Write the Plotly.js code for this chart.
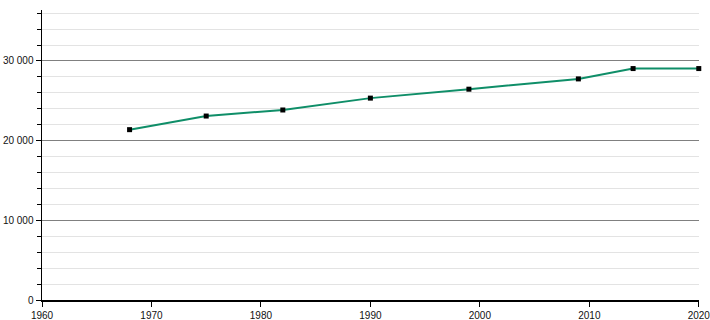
<!DOCTYPE html>
<html>
<head>
<meta charset="utf-8">
<script src="https://cdn.plot.ly/plotly-3.0.1.min.js"></script>
<style>html,body{margin:0;padding:0;background:#fff;}#chart{width:710px;height:320px;}</style>
</head>
<body>
<div id="chart"></div>
<script>
const years = [1968, 1975, 1982, 1990, 1999, 2009, 2014, 2020];
const population = [21380, 23090, 23850, 25340, 26460, 27750, 29050, 29050];
const xTicks = [1960, 1970, 1980, 1990, 2000, 2010, 2020];
const yTicks = [0, 10000, 20000, 30000];

const trace = {
  x: years,
  y: population,
  type: 'scatter',
  mode: 'lines+markers',
  line: {color: '#0f8e68', width: 2},
  marker: {symbol: 'square', size: 5, color: '#000'},
  cliponaxis: false,
  hoverinfo: 'x+y'
};

const layout = {
  width: 710,
  height: 320,
  margin: {l: 42, r: 11, t: 10, b: 20},
  paper_bgcolor: '#fff',
  plot_bgcolor: '#fff',
  separators: ', ',
  showlegend: false,
  font: {family: 'Liberation Sans, Arial, sans-serif', size: 10, color: '#111'},
  xaxis: {
    range: [1960, 2020.02],
    tickvals: xTicks,
    ticks: 'outside',
    ticklen: 5,
    tickcolor: '#000',
    ticklabeloverflow: 'allow',
    showline: true,
    linecolor: '#000',
    linewidth: 1.5,
    showgrid: false,
    zeroline: false,
    fixedrange: true
  },
  yaxis: {
    range: [0, 36400],
    tickvals: yTicks,
    tickformat: ',d',
    ticks: 'outside',
    ticklen: 5,
    tickcolor: '#000',
    showline: true,
    linecolor: '#000',
    linewidth: 1.5,
    showgrid: true,
    gridcolor: '#808080',
    gridwidth: 1,
    zeroline: false,
    fixedrange: true,
    minor: {
      dtick: 2000,
      showgrid: true,
      gridcolor: '#e3e3e3',
      gridwidth: 1,
      ticks: 'outside',
      ticklen: 4,
      tickcolor: '#000'
    }
  }
};

Plotly.newPlot('chart', [trace], layout, {displayModeBar: false, staticPlot: true});
</script>
</body>
</html>
